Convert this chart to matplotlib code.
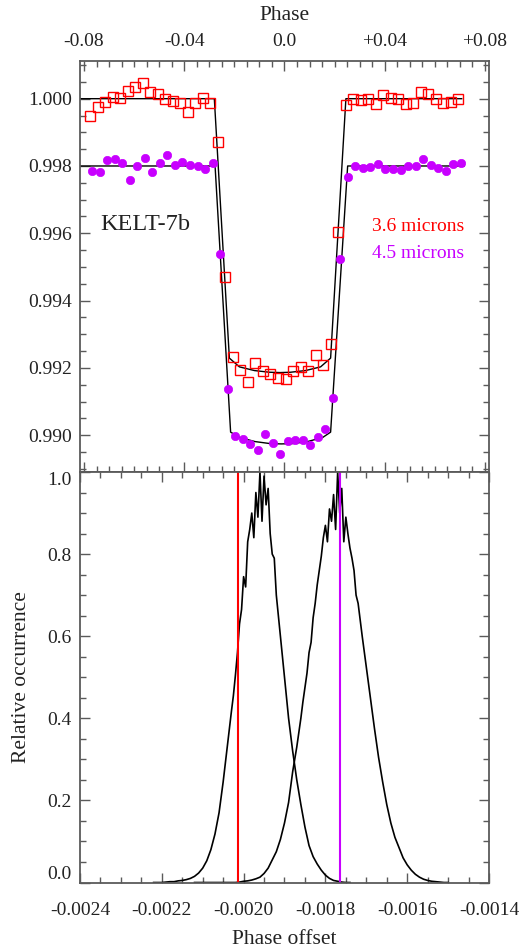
import matplotlib
matplotlib.use("Agg")
import matplotlib.pyplot as plt
import numpy as np
from matplotlib.ticker import MultipleLocator

plt.rcParams['font.family'] = ['Liberation Serif', 'DejaVu Serif']
plt.rcParams['axes.unicode_minus'] = False

RED = '#ff0000'
PURPLE = '#c800ff'
TXT = '#222222'
SPINE = '#5a5a5a'

# ---- light curves (binned) ----
phase_36 = [-0.0776, -0.0746, -0.0716, -0.0686, -0.0656, -0.0626, -0.0596, -0.0566, -0.0536, -0.0506,
            -0.0476, -0.0446, -0.0416, -0.0386, -0.0356, -0.0326, -0.0296, -0.0266, -0.0236, -0.0206,
            -0.0176, -0.0146, -0.0116, -0.0086, -0.0056, -0.0026, 0.0004, 0.0034, 0.0064, 0.0094,
            0.0124, 0.0154, 0.0184, 0.0214, 0.0244, 0.0274, 0.0304, 0.0334, 0.0364, 0.0394,
            0.0424, 0.0454, 0.0484, 0.0514, 0.0544, 0.0574, 0.0604, 0.0634, 0.0664, 0.0694]
flux_36 = [0.99949, 0.99974, 0.99989, 1.00006, 1.00001, 1.00024, 1.00036, 1.00046, 1.00019, 1.00013,
           0.99999, 0.99994, 0.99986, 0.99961, 0.99988, 1.00001, 0.99986, 0.99872, 0.99471, 0.99232,
           0.99193, 0.99159, 0.99215, 0.99191, 0.99181, 0.99171, 0.99168, 0.99190, 0.99203, 0.99192,
           0.99237, 0.99209, 0.99272, 0.99603, 0.99982, 0.99999, 0.99995, 0.99998, 0.99983, 1.00012,
           1.00001, 0.99999, 0.99983, 0.99986, 1.00020, 1.00015, 0.99999, 0.99986, 0.99990, 1.00000]

phase_45 = [-0.0767, -0.0737, -0.0707, -0.0677, -0.0647, -0.0617, -0.0587, -0.0557, -0.0527, -0.0497,
            -0.0467, -0.0437, -0.0407, -0.0377, -0.0347, -0.0317, -0.0287, -0.0257, -0.0227, -0.0197,
            -0.0167, -0.0137, -0.0107, -0.0077, -0.0047, -0.0017, 0.0013, 0.0043, 0.0073, 0.0103,
            0.0133, 0.0163, 0.0193, 0.0223, 0.0253, 0.0283, 0.0313, 0.0343, 0.0373, 0.0403,
            0.0433, 0.0463, 0.0493, 0.0523, 0.0553, 0.0583, 0.0613, 0.0643, 0.0673, 0.0703]
flux_45 = [0.99785, 0.99783, 0.99818, 0.99820, 0.99810, 0.99759, 0.99800, 0.99825, 0.99781, 0.99810,
           0.99832, 0.99803, 0.99813, 0.99804, 0.99800, 0.99791, 0.99810, 0.99539, 0.99138, 0.98998,
           0.98990, 0.98974, 0.98955, 0.99003, 0.98977, 0.98944, 0.98982, 0.98987, 0.98985, 0.98971,
           0.98996, 0.99018, 0.99109, 0.99525, 0.99767, 0.99800, 0.99793, 0.99796, 0.99805, 0.99790,
           0.99791, 0.99787, 0.99801, 0.99800, 0.99820, 0.99804, 0.99793, 0.99785, 0.99807, 0.99808]

# transit models (vertices)
model36_phase = [-0.0816, -0.0280, -0.0220, -0.0180, -0.0120, -0.0060, -0.0018, 0.0024, 0.0084,
                 0.0144, 0.0184, 0.0245, 0.0707]
model36_flux = [1.0, 1.0, 0.99229, 0.99203, 0.99192, 0.99187, 0.99186, 0.99187, 0.99192,
                0.99203, 0.99229, 1.0, 1.0]
model45_phase = [-0.0816, -0.0277, -0.0215, -0.0178, -0.0118, -0.0058, -0.0013, 0.0032, 0.0092,
                 0.0152, 0.0184, 0.0252, 0.0717]
model45_flux = [0.998, 0.998, 0.99009, 0.98993, 0.98981, 0.98975, 0.98974, 0.98975, 0.98981,
                0.98993, 0.99009, 0.998, 0.998]

# ---- phase-offset distributions ----
offset_36 = [-0.00222, -0.00221, -0.00220, -0.00219, -0.00218, -0.00217, -0.00216, -0.00215, -0.00214, -0.00213,
             -0.00212, -0.00211, -0.00210, -0.00209, -0.00208, -0.00207, -0.00206, -0.00205, -0.00204, -0.00203,
             -0.002025, -0.00202, -0.002015, -0.00201, -0.002005, -0.00200, -0.001995, -0.00199, -0.001985,
             -0.00198, -0.001975, -0.00197, -0.001965, -0.00196, -0.001955, -0.00195, -0.001945, -0.00194,
             -0.001935, -0.00193, -0.001925, -0.00192, -0.001915, -0.00191, -0.001905, -0.00190, -0.001895,
             -0.00189, -0.00188, -0.00187, -0.00186, -0.00185, -0.00184, -0.00183, -0.00182, -0.00181,
             -0.00180, -0.00179, -0.00178, -0.00177, -0.00176, -0.00175, -0.00174]
occ_36 = [0.000, 0.000, 0.000, 0.001, 0.002, 0.002, 0.004, 0.005, 0.007, 0.010,
          0.015, 0.023, 0.035, 0.053, 0.080, 0.118, 0.170, 0.245, 0.330, 0.415,
          0.455, 0.505, 0.560, 0.630, 0.665, 0.745, 0.720, 0.830, 0.860,
          0.900, 0.840, 0.950, 0.890, 1.000, 0.880, 0.990, 0.920, 0.960,
          0.850, 0.800, 0.790, 0.700, 0.650, 0.600, 0.550, 0.500, 0.450,
          0.400, 0.320, 0.250, 0.190, 0.135, 0.090, 0.063, 0.045, 0.030,
          0.018, 0.010, 0.005, 0.003, 0.001, 0.000, 0.000]

offset_45 = [-0.00212, -0.00211, -0.00210, -0.00209, -0.00208, -0.00207, -0.00206, -0.00205, -0.00204, -0.00203,
             -0.00202, -0.00201, -0.00200, -0.00199, -0.00198, -0.00197, -0.00196, -0.00195, -0.00194, -0.00193,
             -0.00192, -0.00191, -0.00190, -0.00189, -0.00188, -0.00187,
             -0.00186, -0.001855, -0.00185, -0.001845, -0.00184, -0.001835, -0.00183, -0.001825, -0.00182,
             -0.001815, -0.00181, -0.001805, -0.00180, -0.001795, -0.00179, -0.001785, -0.00178, -0.001775,
             -0.00177, -0.001765, -0.00176, -0.001755, -0.00175, -0.001745, -0.00174, -0.001735, -0.00173,
             -0.001725, -0.00172, -0.001715, -0.00171,
             -0.00170, -0.00169, -0.00168, -0.00167, -0.00166, -0.00165, -0.00164, -0.00163, -0.00162,
             -0.00161, -0.00160, -0.00159, -0.00158, -0.00157, -0.00156, -0.00155, -0.00154, -0.00153,
             -0.00152, -0.00151, -0.00150]
occ_45 = [0.000, 0.000, 0.000, 0.000, 0.000, 0.000, 0.000, 0.000, 0.000, 0.000,
          0.000, 0.001, 0.003, 0.004, 0.006, 0.009, 0.013, 0.022, 0.035, 0.055,
          0.075, 0.105, 0.145, 0.195, 0.270, 0.330,
          0.400, 0.440, 0.475, 0.510, 0.560, 0.585, 0.645, 0.680, 0.725,
          0.760, 0.795, 0.840, 0.870, 0.830, 0.910, 0.880, 0.945, 0.860,
          1.000, 0.900, 0.960, 0.830, 0.890, 0.850, 0.815, 0.790, 0.760,
          0.700, 0.680, 0.640, 0.600,
          0.525, 0.450, 0.375, 0.305, 0.245, 0.190, 0.145, 0.110, 0.085,
          0.060, 0.043, 0.030, 0.020, 0.013, 0.008, 0.005, 0.003, 0.002,
          0.001, 0.000, 0.000]
best_36 = -0.002014
best_45 = -0.001765

fig = plt.figure(figsize=(5.24, 9.5), dpi=100)
ax1 = fig.add_axes([0.15267, 0.50368, 0.78053, 0.43211])
ax2 = fig.add_axes([0.15267, 0.07105, 0.78053, 0.43211])

# top panel
ax1.plot(model36_phase, model36_flux, color='black', lw=1.0)
ax1.plot(model45_phase, model45_flux, color='black', lw=1.0)
ax1.plot(phase_36, flux_36, 's', ms=6.7, mfc='none', mec=RED, mew=1.0)
ax1.plot(phase_45, flux_45, 'o', ms=6.0, mfc=PURPLE, mec=PURPLE, mew=0.5)
ax1.set_xlim(-0.0816, 0.0816)
ax1.set_ylim(0.98892, 1.00112)
ax1.set_xticks([-0.08, -0.04, 0.0, 0.04, 0.08], labels=['-0.08', '-0.04', '0.0', '+0.04', '+0.08'])
ax1.set_yticks([0.990, 0.992, 0.994, 0.996, 0.998, 1.000],
               labels=['0.990', '0.992', '0.994', '0.996', '0.998', '1.000'])
ax1.xaxis.set_minor_locator(MultipleLocator(0.005))
ax1.yaxis.set_minor_locator(MultipleLocator(0.0005))
ax1.tick_params(axis='x', which='both', top=True, bottom=True, labeltop=True, labelbottom=False, pad=8)
ax1.tick_params(axis='y', which='both', left=True, right=True, pad=6)
ax1.xaxis.set_label_position('top')
ax1.set_xlabel('Phase', fontsize=15.5, color=TXT, labelpad=9)
ax1.text(-0.0734, 0.99625, 'KELT-7b', fontsize=17.5, color=TXT, va='center', ha='left')
ax1.text(0.0350, 0.99619, '3.6 microns', fontsize=14, color=RED, va='center', ha='left')
ax1.text(0.0350, 0.99539, '4.5 microns', fontsize=14, color=PURPLE, va='center', ha='left')

# bottom panel
ax2.plot(offset_36, occ_36, color='black', lw=1.2)
ax2.plot(offset_45, occ_45, color='black', lw=1.2)
ax2.axvline(best_36, color=RED, lw=1.5)
ax2.axvline(best_45, color=PURPLE, lw=1.5)
ax2.set_xlim(-0.0024, -0.0014)
ax2.set_ylim(0.0, 1.0)
ax2.set_xticks([-0.0024, -0.0022, -0.0020, -0.0018, -0.0016, -0.0014],
               labels=['-0.0024', '-0.0022', '-0.0020', '-0.0018', '-0.0016', '-0.0014'])
ax2.set_yticks([0.0, 0.2, 0.4, 0.6, 0.8, 1.0], labels=['0.0', '0.2', '0.4', '0.6', '0.8', '1.0'])
ax2.xaxis.set_minor_locator(MultipleLocator(0.00005))
ax2.yaxis.set_minor_locator(MultipleLocator(0.05))
ax2.tick_params(axis='x', which='both', top=True, bottom=True, pad=14)
ax2.tick_params(axis='y', which='both', left=True, right=True, pad=6)
ax2.set_xlabel('Phase offset', fontsize=15.5, color=TXT, labelpad=8)
ax2.set_ylabel('Relative occurrence', fontsize=15.5, color=TXT, labelpad=12)
ylabs = ax2.get_yticklabels()
ylabs[0].set_va('bottom')
ylabs[-1].set_va('top')

for ax in (ax1, ax2):
    ax.tick_params(which='both', direction='in', colors=SPINE, labelcolor=TXT, labelsize=14)
    ax.tick_params(which='major', length=7, width=1.0)
    ax.tick_params(which='minor', length=4, width=1.0)
    for s in ax.spines.values():
        s.set_color(SPINE)
        s.set_linewidth(1.3)

fig.savefig('out.png', dpi=100)
